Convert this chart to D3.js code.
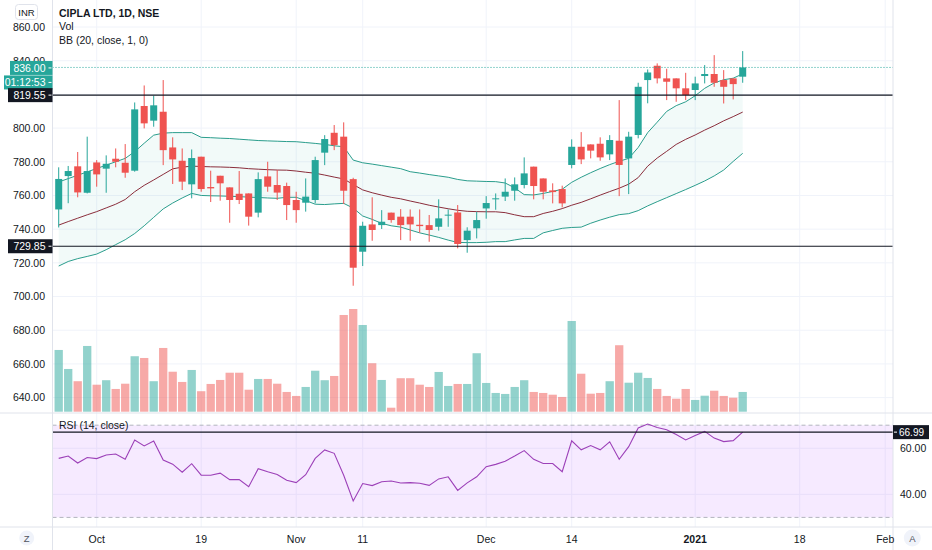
<!DOCTYPE html>
<meta charset="utf-8">
<script src="https://d3js.org/d3.v7.min.js"></script>
<style>
  body { margin: 0; background: #fff; }
  text { font-family: "Liberation Sans", Arial, sans-serif; fill: #131722; }
</style>
<div id="chart"></div>
<script>

// ---- data (CIPLA, NSE, daily) ----
var dates = ["2020-09-25","2020-09-28","2020-09-29","2020-09-30","2020-10-01","2020-10-05","2020-10-06","2020-10-07","2020-10-08","2020-10-09",
  "2020-10-12","2020-10-13","2020-10-14","2020-10-15","2020-10-16","2020-10-19","2020-10-20","2020-10-21","2020-10-22","2020-10-23",
  "2020-10-26","2020-10-27","2020-10-28","2020-10-29","2020-10-30","2020-11-02","2020-11-03","2020-11-04","2020-11-05","2020-11-06",
  "2020-11-09","2020-11-10","2020-11-11","2020-11-12","2020-11-13","2020-11-14","2020-11-17","2020-11-18","2020-11-19","2020-11-20",
  "2020-11-23","2020-11-24","2020-11-25","2020-11-26","2020-11-27","2020-12-01","2020-12-02","2020-12-03","2020-12-04","2020-12-07",
  "2020-12-08","2020-12-09","2020-12-10","2020-12-11","2020-12-14","2020-12-15","2020-12-16","2020-12-17","2020-12-18","2020-12-21",
  "2020-12-22","2020-12-23","2020-12-24","2020-12-28","2020-12-29","2020-12-30","2020-12-31","2021-01-01","2021-01-04","2021-01-05",
  "2021-01-06","2021-01-07","2021-01-08"];

var open  = [751.7,771.5,777.3,761.6,779.6,775.9,781.8,779.4,774.7,813.1,804.4,809.7,788.5,780.6,766.6,783.0,765.0,771.7,764.8,761.0,
  761.2,749.8,771.3,766.2,765.6,757.3,755.7,757.3,785.4,797.2,794.9,769.7,726.6,742.8,742.4,749.8,747.4,747.4,742.6,742.4,
  741.4,748.2,749.9,733.5,740.5,752.3,757.7,759.3,762.8,766.2,777.1,770.1,763.0,763.8,778.1,788.9,790.3,790.7,784.4,792.5,
  782.0,795.9,828.5,837.0,829.5,829.5,823.6,822.6,830.9,832.1,828.5,829.5,830.5];
var high  = [776.7,777.5,785.8,794.9,781.0,783.8,787.9,790.5,815.2,825.3,819.2,828.5,794.5,787.9,787.3,783.0,774.7,771.7,764.8,774.5,
  761.2,773.7,780.0,775.1,767.6,762.2,770.1,783.0,795.8,801.8,803.4,770.5,744.4,758.9,751.3,749.8,751.9,751.7,751.7,748.4,
  757.7,751.7,754.3,741.1,750.3,759.6,761.2,770.1,770.7,782.6,777.1,770.1,767.2,765.8,793.3,797.6,790.3,794.5,795.8,816.6,
  797.8,826.9,834.8,838.4,835.2,829.5,832.8,830.5,837.4,843.3,834.4,829.5,845.7];
var low   = [741.0,755.4,758.9,761.2,765.2,761.6,776.7,770.5,774.1,799.8,800.8,778.0,766.8,763.2,758.3,762.2,756.1,756.9,743.8,754.9,
  742.1,747.0,762.2,757.3,745.4,743.8,750.4,755.3,778.0,786.9,754.9,706.4,718.1,733.1,740.1,743.8,733.5,733.1,737.9,732.5,
  739.1,741.4,728.6,726.0,734.5,746.2,751.5,756.7,756.9,764.2,757.7,757.7,755.3,752.9,776.1,778.6,782.0,780.6,781.0,759.6,
  760.8,793.9,814.7,826.5,816.6,815.6,816.6,816.6,826.5,824.5,814.6,817.0,826.9];
var close = [769.8,774.5,761.8,774.5,772.5,778.8,780.0,773.5,811.1,802.8,813.5,786.9,781.4,768.2,782.2,763.8,764.2,767.2,757.3,757.3,
  747.4,769.7,765.2,761.7,754.3,751.3,759.3,781.0,793.5,789.9,762.8,717.1,742.0,739.5,744.4,745.4,742.4,742.8,741.8,739.5,
  746.4,748.6,731.2,739.1,745.4,755.5,758.3,762.2,766.6,773.1,765.6,762.2,762.0,755.3,788.9,781.4,786.6,782.6,792.9,778.1,
  794.9,824.5,833.0,829.5,827.5,823.6,819.6,826.5,832.1,826.9,824.5,826.1,836.0];

// volume, millions of shares
var volume = [2.47,1.71,1.22,2.63,1.08,1.26,0.91,1.12,2.22,2.15,1.22,2.55,1.60,1.19,1.67,0.82,1.11,1.27,1.56,1.56,
  0.88,1.31,1.31,1.12,0.79,0.63,0.99,1.64,1.26,1.43,3.87,4.11,3.47,1.94,1.27,0.16,1.34,1.34,1.08,0.99,
  1.59,1.03,1.11,1.11,2.34,1.15,0.75,0.71,0.99,1.26,0.79,0.75,0.68,0.59,3.63,1.52,0.72,0.75,1.22,2.66,
  1.16,1.56,1.35,0.91,0.63,0.52,0.91,0.47,0.64,0.84,0.63,0.56,0.79];

// Bollinger Bands (20, close, 1, 0)
var bbUpper = [768,770,772,774,776,778,780,782,786,791,795.8,797,797.3,797.3,797.3,794.5,794.3,794,793.8,793.4,
  793,792.6,792.4,792.2,792,791.9,791.4,790.9,790.3,789.5,788.9,781,779.4,778.6,777.7,776.8,775.9,774.1,773.3,772.4,
  771.6,770.8,769.5,768.7,768.5,768.3,768.2,767.4,764.5,760.5,760.3,761.2,762.4,763.7,767.8,770.8,773.5,776,778.3,780.3,
  782,788.5,797.3,803.5,809.9,813.3,815.6,819.2,823.6,826.8,828.7,829.6,832.2];
var bbBasis = [742.4,744.5,746.5,748.5,750.4,752.6,754.8,757.6,762.2,766,769.2,772.5,775.8,776.8,777.4,777.2,777,776.9,776.7,776.4,
  775.9,775.6,775.3,775.1,775,774.5,773.8,773.2,772.1,770.9,769.8,766.5,763.3,761.6,760.2,758.9,758,756.7,755.5,754.2,
  753.1,752.1,751.2,750.6,750.4,750.3,750.3,749.8,748.5,747.4,747.4,749.3,750.6,752.2,754.2,755.9,758,760.2,762.3,764.3,
  766.7,770.6,777.4,782.2,786.2,790.3,793.3,795.9,798.8,801.4,804.3,806.8,809.5];
var bbLower = [718.1,720.8,722.5,723.8,725.2,727.8,730.8,733.7,737.4,742,747,752,755.5,758.5,761.2,760,759.8,759.7,759.5,759.3,
  759,758.8,758.5,758.3,758.9,758.9,757,754.8,754.6,755,755.3,752.5,747.8,745.8,743.4,742,741.2,739.5,737.8,736.5,
  735.1,733.5,732.1,732,732,732.2,732.6,732.6,733.6,734.5,734.5,737.8,739.2,740.5,741,741.2,743.5,745.4,747.1,748.6,
  749.2,751,753.8,756.3,758.7,761.1,763.5,766,768.6,771.6,775.1,780.2,785];

// RSI (14, close)
var rsi = [55.6,56.6,53.6,56.0,55.5,57.1,57.5,55.2,63.6,61.0,63.1,54.9,53.1,49.6,53.3,48.3,48.3,49.2,46.4,46.4,
  43.3,51.1,49.8,48.6,46.1,45.1,48.5,55.6,59.3,57.8,48.3,37.1,44.7,43.8,45.5,45.8,44.9,45.1,44.8,43.9,
  46.7,47.6,41.7,45.0,47.6,52.0,53.0,54.4,56.6,59.0,55.2,53.4,53.4,49.8,63.2,59.3,61.2,59.3,62.8,55.2,
  60.7,68.8,70.5,69.0,68.0,66.0,63.6,65.5,67.3,64.4,62.9,63.3,66.99];

var priceTicks = [640,660,680,700,720,740,760,780,800,820,840,860];
var rsiTicks = [40, 60];
var rsiBands = [70, 30];
// time axis labels and the trading-day slot each one sits on
var timeLabels = ["Oct","19","Nov","11","Dec","14","2021","18","Feb"];
var timeSlots  = [4, 15, 25, 32, 45, 54, 67, 78, 87];

var levels = [819.55, 729.85];
var lastPrice = 836.00;
var countdown = "01:12:53";
var rsiLast = 66.99;

// ---- layout ----
var W = 932, H = 550;
var left = 52.5, right = 893, mainBottom = 413, rsiBottom = 527;
var up = "#26a69a", down = "#ef5350", grid = "#f0f3fa", border = "#e0e3eb";

var svg = d3.select("#chart").append("svg")
    .attr("width", W)
    .attr("height", H);

var x = d3.scaleLinear().domain([0, 87]).range([58.7, 885.2]);
var y = d3.scaleLinear().domain([640, 860]).range([397.6, 27]);
var yVol = d3.scaleLinear().domain([0, d3.max(volume)]).range([411.7, 309]);
var yRsi = d3.scaleLinear().domain([30, 70]).range([517.4, 425.2]);

var defs = svg.append("defs");
defs.append("clipPath").attr("id", "clipMain")
  .append("rect").attr("x", left).attr("y", 0).attr("width", right - left).attr("height", mainBottom);
defs.append("clipPath").attr("id", "clipRsi")
  .append("rect").attr("x", left).attr("y", mainBottom).attr("width", right - left).attr("height", rsiBottom - mainBottom);

// grid
svg.append("g").selectAll("line")
  .data(timeSlots).enter().append("line")
  .attr("x1", function (d) { return x(d); }).attr("x2", function (d) { return x(d); })
  .attr("y1", 0).attr("y2", rsiBottom)
  .attr("stroke", grid);

svg.append("g").selectAll("line")
  .data(priceTicks).enter().append("line")
  .attr("x1", left).attr("x2", right)
  .attr("y1", function (d) { return y(d); }).attr("y2", function (d) { return y(d); })
  .attr("stroke", grid);

svg.append("g").selectAll("line")
  .data(rsiTicks).enter().append("line")
  .attr("x1", left).attr("x2", right)
  .attr("y1", function (d) { return yRsi(d); }).attr("y2", function (d) { return yRsi(d); })
  .attr("stroke", grid);

var main = svg.append("g").attr("clip-path", "url(#clipMain)");
var idx = d3.range(dates.length);

// bollinger fill + lines
main.append("path")
  .datum(idx)
  .attr("d", d3.area()
    .x(function (i) { return x(i); })
    .y0(function (i) { return y(bbLower[i]); })
    .y1(function (i) { return y(bbUpper[i]); }))
  .attr("fill", up)
  .attr("fill-opacity", 0.06);

// volume
main.append("g").selectAll("rect")
  .data(idx).enter().append("rect")
  .attr("x", function (i) { return x(i) - 4.15; })
  .attr("width", 8.3)
  .attr("y", function (i) { return yVol(volume[i]); })
  .attr("height", function (i) { return yVol(0) - yVol(volume[i]); })
  .attr("fill", function (i) { return close[i] >= open[i] ? up : down; })
  .attr("fill-opacity", 0.5);

function bbLine(arr, color) {
  main.append("path")
    .datum(idx)
    .attr("d", d3.line().x(function (i) { return x(i); }).y(function (i) { return y(arr[i]); }))
    .attr("fill", "none")
    .attr("stroke", color)
    .attr("stroke-width", 1);
}
bbLine(bbUpper, "#2a9d8c");
bbLine(bbLower, "#2a9d8c");
bbLine(bbBasis, "#8a2d3b");

// candles
var candles = main.append("g").selectAll("g")
  .data(idx).enter().append("g");
candles.append("line")
  .attr("x1", function (i) { return x(i); }).attr("x2", function (i) { return x(i); })
  .attr("y1", function (i) { return y(high[i]); })
  .attr("y2", function (i) { return y(low[i]); })
  .attr("stroke", function (i) { return close[i] >= open[i] ? up : down; });
candles.append("rect")
  .attr("x", function (i) { return x(i) - 3.5; })
  .attr("width", 7)
  .attr("y", function (i) { return y(Math.max(open[i], close[i])); })
  .attr("height", function (i) { return Math.max(1, Math.abs(y(open[i]) - y(close[i]))); })
  .attr("fill", function (i) { return close[i] >= open[i] ? up : down; });

// last price dotted line and horizontal levels
main.append("line")
  .attr("x1", left).attr("x2", right)
  .attr("y1", y(lastPrice)).attr("y2", y(lastPrice))
  .attr("stroke", up).attr("stroke-dasharray", "1,2");
main.selectAll(".lvl")
  .data(levels).enter().append("line")
  .attr("x1", left).attr("x2", right)
  .attr("y1", function (d) { return y(d); }).attr("y2", function (d) { return y(d); })
  .attr("stroke", "#131722").attr("stroke-width", 1.2);

// ---- RSI pane ----
var rsiG = svg.append("g").attr("clip-path", "url(#clipRsi)");
rsiG.append("rect")
  .attr("x", left).attr("width", right - left)
  .attr("y", yRsi(70)).attr("height", yRsi(30) - yRsi(70))
  .attr("fill", "#9915ff").attr("fill-opacity", 0.09);
rsiG.selectAll(".band")
  .data(rsiBands).enter().append("line")
  .attr("x1", left).attr("x2", right)
  .attr("y1", function (d) { return yRsi(d); }).attr("y2", function (d) { return yRsi(d); })
  .attr("stroke", "#b2b5be").attr("stroke-dasharray", "4,3");
rsiG.append("path")
  .datum(idx)
  .attr("d", d3.line().x(function (i) { return x(i); }).y(function (i) { return yRsi(rsi[i]); }))
  .attr("fill", "none")
  .attr("stroke", "#9c40b8")
  .attr("stroke-width", 1.1);
rsiG.append("line")
  .attr("x1", left).attr("x2", right)
  .attr("y1", yRsi(rsiLast)).attr("y2", yRsi(rsiLast))
  .attr("stroke", "#131722").attr("stroke-width", 1.2);

// pane borders
svg.append("line").attr("x1", left).attr("x2", left).attr("y1", 0).attr("y2", H).attr("stroke", border);
svg.append("line").attr("x1", right).attr("x2", right).attr("y1", 0).attr("y2", H).attr("stroke", border);
svg.append("line").attr("x1", 0).attr("x2", W).attr("y1", mainBottom).attr("y2", mainBottom).attr("stroke", border);
svg.append("line").attr("x1", 0).attr("x2", W).attr("y1", rsiBottom).attr("y2", rsiBottom).attr("stroke", border);

// price axis (left)
var yAxis = svg.append("g")
  .attr("transform", "translate(" + 47 + ",0)")
  .call(d3.axisLeft(y).tickValues(priceTicks).tickFormat(d3.format(".2f")).tickSize(0).tickPadding(2));
yAxis.select(".domain").remove();
yAxis.selectAll("text").style("font-size", "10.5px").style("fill", "#131722");

// rsi axis (right)
var rAxis = svg.append("g")
  .attr("transform", "translate(" + right + ",0)")
  .call(d3.axisRight(yRsi).tickValues(rsiTicks).tickFormat(d3.format(".2f")).tickSize(0).tickPadding(7));
rAxis.select(".domain").remove();
rAxis.selectAll("text").style("font-size", "10.5px").style("fill", "#131722");

// time axis
svg.append("g").selectAll("text")
  .data(timeLabels).enter().append("text")
  .attr("x", function (d, k) { return x(timeSlots[k]); })
  .attr("y", 543)
  .attr("text-anchor", "middle")
  .style("font-size", "10.5px")
  .style("font-weight", function (d) { return d === "2021" ? "bold" : "normal"; })
  .text(function (d) { return d; });

// axis value tags
function tag(yv, label, fill, x0, x1, anchorLeft) {
  svg.append("rect")
    .attr("x", x0).attr("y", yv - 7).attr("width", x1 - x0).attr("height", 14)
    .attr("fill", fill);
  if (anchorLeft) {
    svg.append("line").attr("x1", x0 + 1).attr("x2", x0 + 4).attr("y1", yv).attr("y2", yv).attr("stroke", "#fff");
    svg.append("text").attr("x", x0 + 6).attr("y", yv + 3.6).style("font-size", "10px").style("fill", "#fff").text(label);
  } else {
    svg.append("line").attr("x1", x1 - 4).attr("x2", x1 - 1).attr("y1", yv).attr("y2", yv).attr("stroke", "#fff");
    svg.append("text").attr("x", x1 - 7).attr("y", yv + 3.8).attr("text-anchor", "end")
      .style("font-size", "10.5px").style("fill", "#fff").text(label);
  }
}
tag(y(lastPrice) + 0.5, d3.format(".2f")(lastPrice), up, 10, left, false);
tag(y(lastPrice) + 15, countdown, up, 4, left, false);
tag(y(levels[0]), d3.format(".2f")(levels[0]), "#131722", 8, left, false);
tag(y(levels[1]), d3.format(".2f")(levels[1]), "#131722", 8, left, false);
tag(yRsi(rsiLast), d3.format(".2f")(rsiLast), "#131722", right, 929, true);

// legends
svg.append("text").attr("x", 59).attr("y", 17).style("font-size", "10.5px").style("font-weight", "bold").text("CIPLA LTD, 1D, NSE");
svg.append("text").attr("x", 59).attr("y", 30).style("font-size", "10.5px").text("Vol");
svg.append("text").attr("x", 59).attr("y", 43.5).style("font-size", "10.5px").text("BB (20, close, 1, 0)");
svg.append("text").attr("x", 59).attr("y", 429).style("font-size", "10.5px").text("RSI (14, close)");

// currency badge
svg.append("rect").attr("x", 15.5).attr("y", 4.5).attr("width", 22).attr("height", 15).attr("rx", 3)
  .attr("fill", "#fff").attr("stroke", border);
svg.append("text").attr("x", 26.5).attr("y", 15.5).attr("text-anchor", "middle").style("font-size", "9.5px").text("INR");

// Z / A buttons
svg.append("circle").attr("cx", 26.7).attr("cy", 538).attr("r", 7.5).attr("fill", grid);
svg.append("text").attr("x", 26.7).attr("y", 541.5).attr("text-anchor", "middle").style("font-size", "9.5px").style("fill", "#50535e").text("Z");
svg.append("circle").attr("cx", 912.3).attr("cy", 538).attr("r", 8.5).attr("fill", grid);
svg.append("text").attr("x", 912.3).attr("y", 541.5).attr("text-anchor", "middle").style("font-size", "9.5px").style("fill", "#50535e").text("A");

</script>
